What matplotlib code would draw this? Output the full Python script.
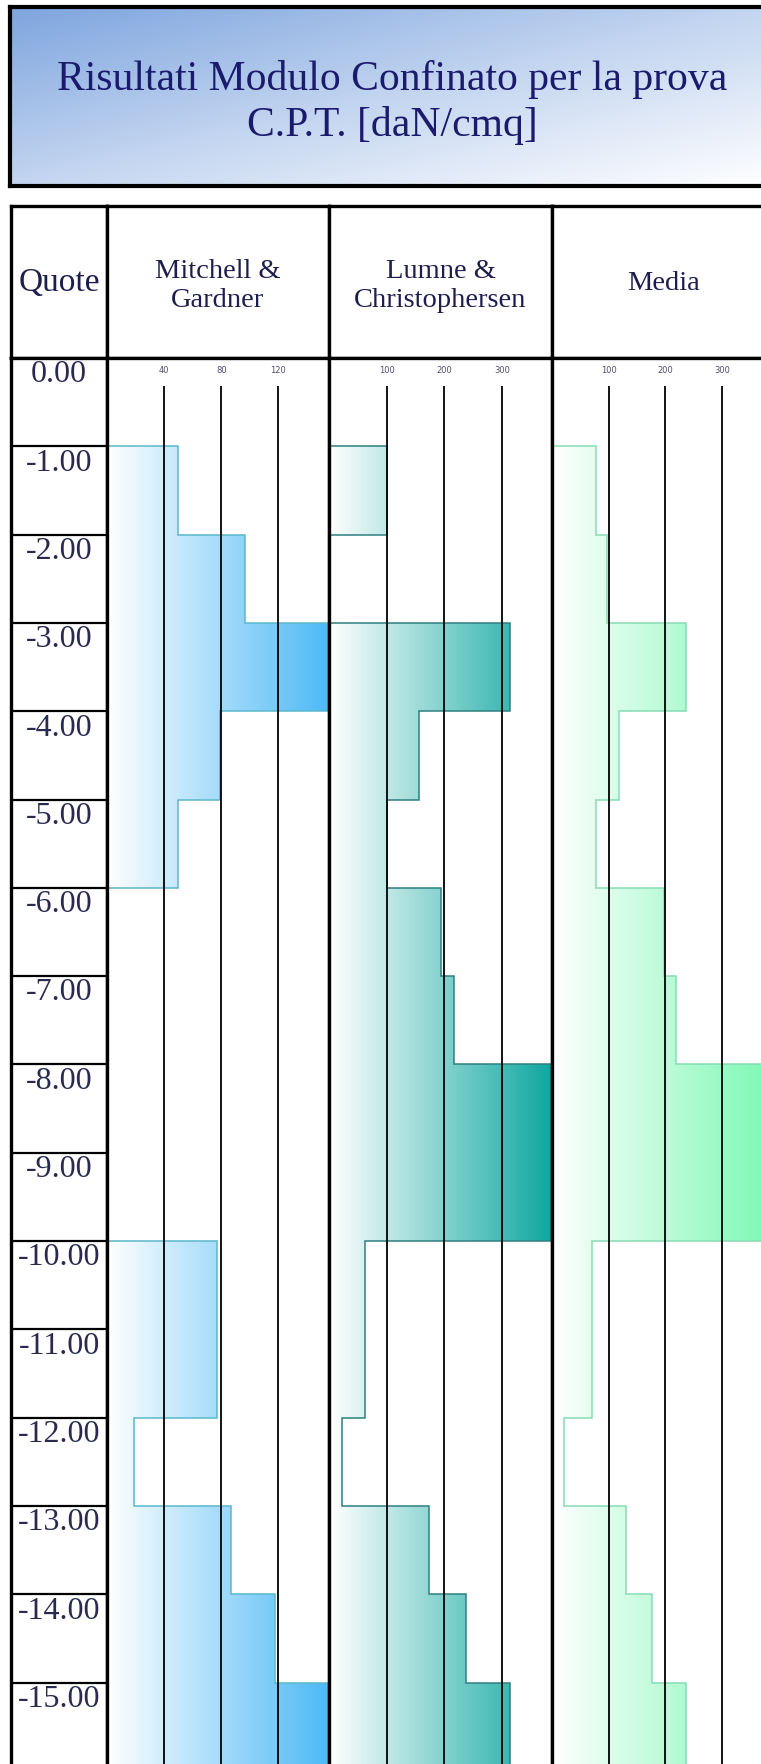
import numpy as np
import matplotlib.pyplot as plt
from matplotlib.colors import LinearSegmentedColormap
from matplotlib.patches import Polygon

W, H = 761, 1765
ROW_PX = 88.3      # pixels per metre of depth
TOP_PX = 359       # top of the 0.00 row
HEAD_PX = 207      # top of the header row

title = ["Risultati Modulo Confinato per la prova", "C.P.T. [daN/cmq]"]
headers = ["Quote", "Mitchell &\nGardner", "Lumne &\nChristophersen", "Media"]

# top of each 1 m layer
quote = [0.0, -1.0, -2.0, -3.0, -4.0, -5.0, -6.0, -7.0,
         -8.0, -9.0, -10.0, -11.0, -12.0, -13.0, -14.0, -15.0]

# confined modulus per layer [daN/cmq], 0 = no value
mitchell = [0, 50, 97, 160, 79, 50, 0, 0, 0, 0, 77, 77, 19, 87, 118, 159]
lumne = [0, 100, 0, 314, 156, 100, 194, 216, 420, 420, 62, 62, 23, 174, 237, 313]
media = [0, 77, 97, 237, 118, 77, 198, 219, 420, 420, 70, 70, 21, 130, 176, 236]

mitchell_ticks = [40, 80, 120]
lumne_ticks = [100, 200, 300]
media_ticks = [100, 200, 300]

plt.rcParams["font.family"] = ["Liberation Serif", "DejaVu Serif"]
fig = plt.figure(figsize=(W / 100, H / 100), dpi=100)


def box(x0, y0, x1, y1):
    return [x0 / W, 1 - y1 / H, (x1 - x0) / W, (y1 - y0) / H]


def bare(ax, lw, sides=("left", "right", "top", "bottom")):
    ax.set_xticks([])
    ax.set_yticks([])
    for name, sp in ax.spines.items():
        sp.set_visible(name in sides)
        sp.set_linewidth(lw)


# title box with diagonal gradient
ax = fig.add_axes(box(10, 8, 775, 187))
gx, gy = np.meshgrid(np.linspace(0, 1, 300), np.linspace(0, 1, 120))
title_cmap = LinearSegmentedColormap.from_list("t", ["#7ea5de", "#c3d5f0", "#ffffff"])
ax.imshow((gx + gy) / 2, cmap=title_cmap, extent=[0, 1, 0, 1], aspect="auto", origin="upper")
ax.set_xlim(0, 1)
ax.set_ylim(0, 1)
bare(ax, 3)
ax.text(0.5, 0.600, title[0], ha="center", va="center", fontsize=30, color="#1b1b6e")
ax.text(0.5, 0.345, title[1], ha="center", va="center", fontsize=30, color="#1b1b6e")

cols = [
    # x range (px), values, ticks, x max, colour, outline
    ((107, 329), mitchell, mitchell_ticks, 155.5, "#4db9f5", "#5ab8cc"),
    ((329, 552), lumne, lumne_ticks, 386.5, "#0fa7a0", "#2e7f80"),
    ((552, 775), media, media_ticks, 393.0, "#7af8b2", "#86dcb4"),
]

ybot = -(H - TOP_PX) / ROW_PX

# header cells
bounds = [(11, 107)] + [c[0] for c in cols]
sizes = [24, 20.5, 20.5, 20.5]
for (x0, x1), label, fs in zip(bounds, headers, sizes):
    ah = fig.add_axes(box(x0, HEAD_PX, x1, TOP_PX))
    bare(ah, 2.4)
    yc = 0.48 if "\n" in label else 0.5
    ah.text(0.5, yc, label, ha="center", va="center", fontsize=fs,
            color="#1e1e4e", linespacing=1.2)

# depth column
aq = fig.add_axes(box(11, TOP_PX, 107, H))
aq.set_xlim(0, 1)
aq.set_ylim(ybot, 0)
bare(aq, 2.4, ("left", "right", "top"))
for d in quote:
    if d < 0:
        aq.axhline(d, color="black", lw=1.6)
    aq.text(0.5, d - 0.18, f"{d:.2f}", ha="center", va="center",
            fontsize=23, color="#2a2a50")

# modulus columns
for (x0, x1), vals, ticks, xmax, colour, edge in cols:
    ax = fig.add_axes(box(x0, TOP_PX, x1, H))
    cmap = LinearSegmentedColormap.from_list("g", ["#ffffff", colour])
    im = ax.imshow(np.linspace(0, 1, 256)[None, :], cmap=cmap,
                   extent=[0, xmax, ybot, 0], aspect="auto", zorder=0)
    verts = [(0, 0)]
    for top, v in zip(quote, vals):
        verts += [(v, top), (v, top - 1)]
    verts.append((0, quote[-1] - 1))
    poly = Polygon(verts, closed=True, facecolor="none", edgecolor=edge, lw=1.1, zorder=1)
    ax.add_patch(poly)
    im.set_clip_path(poly)
    ax.vlines(ticks, ybot, -0.32, color="black", lw=1.3, zorder=2)
    for t in ticks:
        ax.text(t, -0.13, str(t), ha="center", va="center", fontsize=6,
                family="DejaVu Sans", color="#505070")
    ax.set_xlim(0, xmax)
    ax.set_ylim(ybot, 0)
    bare(ax, 2.4, ("left", "right", "top"))

fig.savefig("out.png", dpi=100)
